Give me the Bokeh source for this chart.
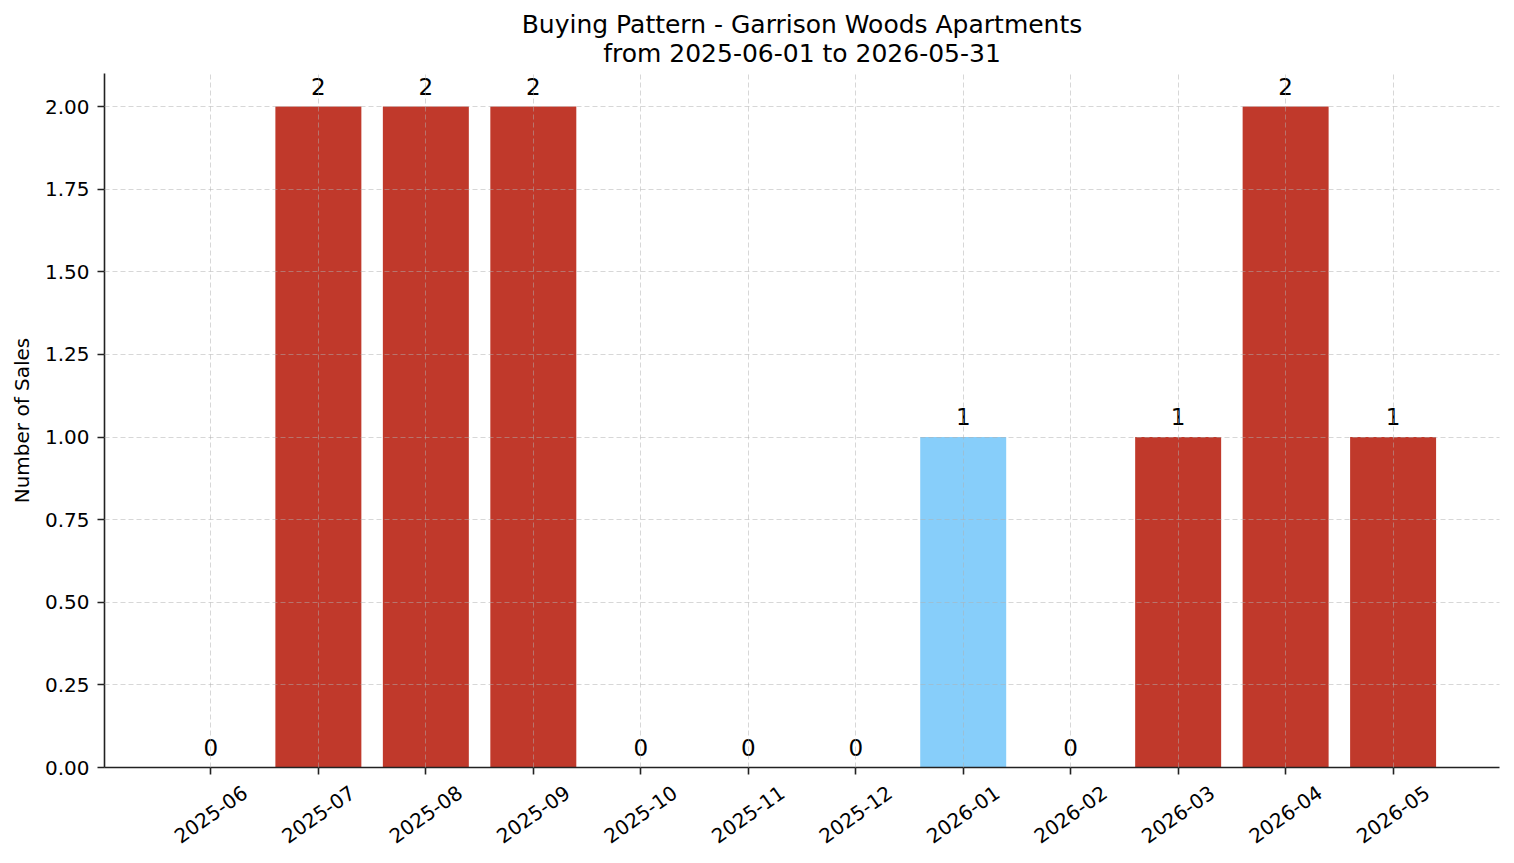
import math
from bokeh.plotting import figure
from bokeh.models import (ColumnDataSource, Range1d, FixedTicker, LabelSet, Title,
                          PrintfTickFormatter, LinearAxis)
from bokeh.core.properties import value
from bokeh.embed import file_html
from bokeh.resources import INLINE

# ---- data ----
months = ["2025-06", "2025-07", "2025-08", "2025-09", "2025-10", "2025-11",
          "2025-12", "2026-01", "2026-02", "2026-03", "2026-04", "2026-05"]
sales = [0, 2, 2, 2, 0, 0, 0, 1, 0, 1, 2, 1]
highlight_month = "2026-01"
y_ticks = [0.0, 0.25, 0.5, 0.75, 1.0, 1.25, 1.5, 1.75, 2.0]
title_line1 = "Buying Pattern - Garrison Woods Apartments"
title_line2 = "from 2025-06-01 to 2026-05-31"
y_label = "Number of Sales"

RED = "#c0392b"
BLUE = "#87cefa"
FONT = "DejaVu Sans"

xs = list(range(len(months)))
src = ColumnDataSource(dict(
    x=xs,
    month=months,
    sales=sales,
    label=[str(v) for v in sales],
    color=[BLUE if m == highlight_month else RED for m in months],
))

W, H = 1514, 863
BL, BR, BT, BB = 104, 15, 73, 96
x_lo, x_hi = -0.99, len(months) - 1 + 0.99

p = figure(width=W, height=H,
           x_range=Range1d(x_lo, x_hi),
           y_range=Range1d(0, 2.1),
           output_backend="svg", toolbar_location=None,
           title=title_line1,
           min_border_left=BL, min_border_right=BR,
           min_border_top=BT, min_border_bottom=BB)

p.title.align = "center"
p.title.text_font = FONT
p.title.text_font_size = "25px"
p.title.text_font_style = "normal"
p.title.text_color = "black"
p.title.text_line_height = 0.9
p.title.standoff = -14

t2 = Title(text=title_line2, align="center", text_font=FONT, text_font_size="25px",
           text_font_style="normal", text_color="black", text_line_height=0.9,
           standoff=11)
p.add_layout(t2, "above")

p.vbar(x="x", top="sales", width=0.8, fill_color="color", line_color=None, source=src)

# grid
for g in (p.xgrid, p.ygrid):
    g.grid_line_color = "#b0b0b0"
    g.grid_line_alpha = 0.5
    g.grid_line_dash = "5 3"
    g.grid_line_width = 1
    g.level = "overlay"
p.xgrid.ticker = FixedTicker(ticks=xs)
p.ygrid.ticker = FixedTicker(ticks=y_ticks)

p.outline_line_color = None

for ax in (p.xaxis[0], p.yaxis[0]):
    ax.axis_line_color = "#222222"
    ax.axis_line_width = 1.6
    ax.major_tick_line_color = "#222222"
    ax.major_tick_line_width = 1.6
    ax.major_tick_out = 7
    ax.major_tick_in = 0
    ax.minor_tick_line_color = None
    ax.major_label_text_font = FONT
    ax.major_label_text_font_size = "20px"
    ax.major_label_text_color = "black"

# x axis: tick marks only
p.xaxis.ticker = FixedTicker(ticks=xs)
p.xaxis.major_label_text_color = None
p.xaxis.major_label_standoff = 0

# second x axis carrying the rotated month labels, shifted so each rotated
# label is centred under its tick (Bokeh right-aligns rotated labels)
angle = math.radians(35)
label_w_px = 83.6
px_per_unit = (W - BL - BR) / (x_hi - x_lo)
shift = (label_w_px / 2) * math.cos(angle) / px_per_unit
label_ticks = [x + shift for x in xs]
lab_axis = LinearAxis(ticker=FixedTicker(ticks=label_ticks),
                      major_label_overrides={t: m for t, m in zip(label_ticks, months)},
                      axis_line_color=None, major_tick_line_color=None,
                      minor_tick_line_color=None,
                      major_label_orientation=angle,
                      major_label_standoff=10,
                      major_label_text_font=FONT,
                      major_label_text_font_size="20px",
                      major_label_text_color="black")
p.add_layout(lab_axis, "below")

p.yaxis.ticker = FixedTicker(ticks=y_ticks)
p.yaxis.formatter = PrintfTickFormatter(format="%.2f")
p.yaxis.major_label_standoff = 8
p.yaxis.axis_label = y_label
p.yaxis.axis_label_text_font = FONT
p.yaxis.axis_label_text_font_size = "20px"
p.yaxis.axis_label_text_font_style = "normal"
p.yaxis.axis_label_text_color = "black"
p.yaxis.axis_label_standoff = 8

# value labels above bars
vals = LabelSet(x="x", y="sales", text="label", source=src,
                text_align="center", text_baseline="alphabetic", y_offset=12,
                text_font=value(FONT), text_font_size=value("23px"), text_color="black")
p.add_layout(vals)

open("out.html", "w").write(file_html(p, INLINE))
